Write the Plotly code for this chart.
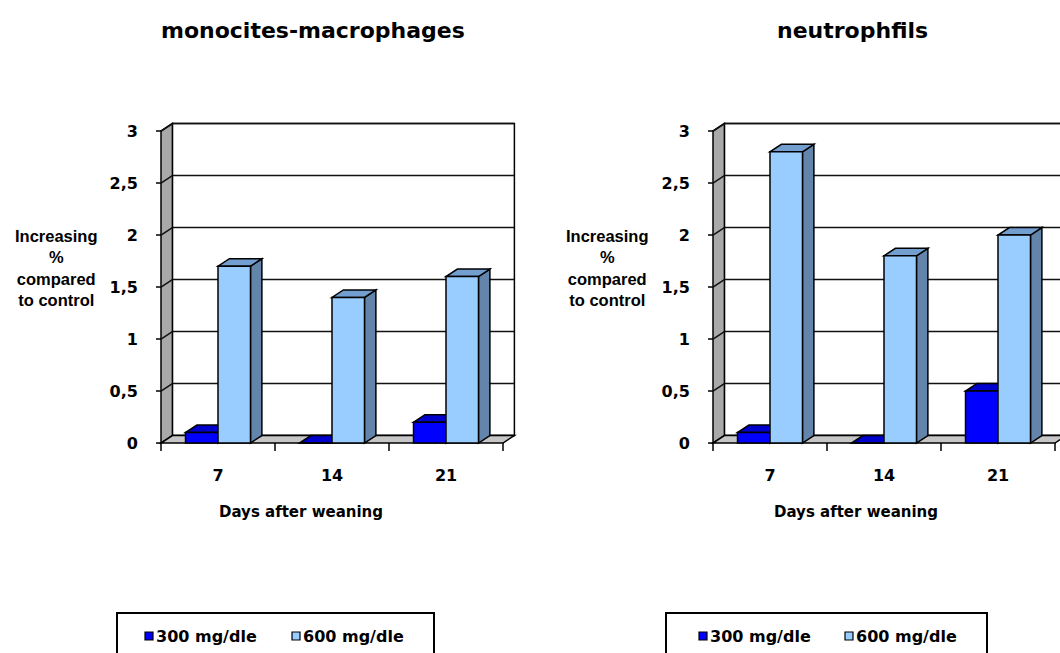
import plotly.graph_objects as go

# ---- data -------------------------------------------------------------
days = ["7", "14", "21"]
series_names = ["300 mg/dle", "600 mg/dle"]
mono_300 = [0.1, 0.0, 0.2]
mono_600 = [1.7, 1.4, 1.6]
neut_300 = [0.1, 0.0, 0.5]
neut_600 = [2.8, 1.8, 2.0]
panel_titles = ["monocites-macrophages", "neutrophfils"]
y_ticks = [0, 0.5, 1, 1.5, 2, 2.5, 3]
y_tick_text = ["0", "0,5", "1", "1,5", "2", "2,5", "3"]
x_title = "Days after weaning"
y_title = "Increasing<br>%<br>compared<br>to control"

# ---- look ---------------------------------------------------------------
W, H = 1060, 653
FONT = "DejaVu Sans"
CAT_PX = 114          # pixels per category
UNIT_PX = 104         # pixels per value unit
ZERO_Y = 443          # pixel row of value 0 on the front plane
FRONT_X = [161, 713]  # pixel column of the front y axis for each panel
DX = 0.1              # depth offset, category units
DY = 0.072            # depth offset, value units
BAR_W = 0.285
Y_MAX = 3
X_LO, Y_LO = -0.56, -0.09
Y_HI = Y_MAX + DY + 0.04

front_colors = ["#0000ff", "#99ccff"]
top_colors = ["#0000cc", "#729fd0"]
side_colors = ["#000099", "#6385ab"]
wall_gray = "#a9a9a9"
floor_gray = "#c6c6c6"
EDGE = dict(color="black", width=1.5)
GRID = dict(color="#111111", width=1.5)

panels = [(mono_300, mono_600), (neut_300, neut_600)]
offsets = [-BAR_W, 0.0]

fig = go.Figure()
shapes = []
annotations = []


def px_x(p):
    return p / W


def px_y(p):
    return 1 - p / H


def poly(pts):
    return "M " + " L ".join(f"{x},{y}" for x, y in pts) + " Z"


n_cat = len(days)
left_edge = -0.5
right_edge = n_cat - 0.5

for i, (s300, s600) in enumerate(panels):
    xa = "x" if i == 0 else f"x{i + 1}"
    ya = "y" if i == 0 else f"y{i + 1}"
    fx = FRONT_X[i]
    x_hi_px = min(W, fx + (right_edge + DX + 0.03 - left_edge) * CAT_PX)
    x_hi = left_edge + (x_hi_px - fx) / CAT_PX
    x_lo_px = fx + (X_LO - left_edge) * CAT_PX
    y_lo_px = ZERO_Y - Y_LO * UNIT_PX
    y_hi_px = ZERO_Y - Y_HI * UNIT_PX

    axis_x = dict(
        domain=[px_x(x_lo_px), px_x(x_hi_px)],
        range=[X_LO, x_hi],
        type="category",
        categoryorder="array",
        categoryarray=days,
        showgrid=False,
        zeroline=False,
        showline=False,
        ticks="",
        tickfont=dict(family=FONT, size=16, color="black", weight="bold"),
        ticklabelstandoff=12,
        anchor=ya,
        fixedrange=True,
    )
    # tick marks are drawn on the side wall; the axis ticks are only spacers
    axis_y = dict(
        domain=[px_y(y_lo_px), px_y(y_hi_px)],
        range=[Y_LO, Y_HI],
        tickvals=y_ticks,
        ticktext=y_tick_text,
        showgrid=False,
        zeroline=False,
        showline=False,
        ticks="outside",
        ticklen=12,
        tickcolor="rgba(0,0,0,0)",
        tickfont=dict(family=FONT, size=16, color="black", weight="bold"),
        anchor=xa,
        fixedrange=True,
    )
    fig.layout["xaxis" if i == 0 else f"xaxis{i + 1}"] = axis_x
    fig.layout["yaxis" if i == 0 else f"yaxis{i + 1}"] = axis_y

    ref = dict(xref=xa, yref=ya, layer="below")

    # back wall
    shapes.append(dict(type="path", path=poly([
        (left_edge + DX, DY), (right_edge + DX, DY),
        (right_edge + DX, Y_MAX + DY), (left_edge + DX, Y_MAX + DY)]),
        fillcolor="white", line=EDGE, **ref))
    # horizontal grid on the back wall
    for v in y_ticks:
        shapes.append(dict(type="line", x0=left_edge + DX, x1=right_edge + DX,
                           y0=v + DY, y1=v + DY, line=GRID, **ref))
    # side wall
    shapes.append(dict(type="path", path=poly([
        (left_edge, 0), (left_edge, Y_MAX),
        (left_edge + DX, Y_MAX + DY), (left_edge + DX, DY)]),
        fillcolor=wall_gray, line=EDGE, **ref))
    for v in y_ticks:
        shapes.append(dict(type="line", x0=left_edge, x1=left_edge + DX,
                           y0=v, y1=v + DY, line=GRID, **ref))
    # floor
    shapes.append(dict(type="path", path=poly([
        (left_edge, 0), (right_edge, 0),
        (right_edge + DX, DY), (left_edge + DX, DY)]),
        fillcolor=floor_gray, line=EDGE, **ref))
    # tick marks
    for v in y_ticks:
        shapes.append(dict(type="line", x0=left_edge - 5 / CAT_PX, x1=left_edge,
                           y0=v, y1=v, line=EDGE, **ref))
    for b in range(n_cat + 1):
        xb = left_edge + b
        shapes.append(dict(type="line", x0=xb, x1=xb, y0=0, y1=-8 / UNIT_PX,
                           line=EDGE, **ref))

    # top and side faces of the columns
    for k, vals in enumerate((s300, s600)):
        o = offsets[k]
        for j, v in enumerate(vals):
            x0 = j + o
            x1 = x0 + BAR_W
            shapes.append(dict(type="path", path=poly([
                (x1, 0), (x1, v), (x1 + DX, v + DY), (x1 + DX, DY)]),
                fillcolor=side_colors[k], line=EDGE, **ref))
            shapes.append(dict(type="path", path=poly([
                (x0, v), (x1, v), (x1 + DX, v + DY), (x0 + DX, v + DY)]),
                fillcolor=top_colors[k], line=EDGE, **ref))

    # front faces
    for k, vals in enumerate((s300, s600)):
        fig.add_trace(go.Bar(
            x=days, y=vals, name=series_names[k],
            offset=offsets[k], width=BAR_W,
            marker=dict(color=front_colors[k], line=EDGE),
            xaxis=xa, yaxis=ya, showlegend=False, hoverinfo="skip",
        ))

# ---- texts ----------------------------------------------------------------
title_x = [313, 852]
ytitle_x = [56, 607]
xtitle_x = [301, 856]
for i in range(2):
    annotations.append(dict(
        text=panel_titles[i], x=px_x(title_x[i]), y=px_y(30),
        xref="paper", yref="paper", showarrow=False,
        xanchor="center", yanchor="middle",
        font=dict(family=FONT, size=22, color="black", weight="bold")))
    annotations.append(dict(
        text=y_title, x=px_x(ytitle_x[i]), y=px_y(268),
        xref="paper", yref="paper", showarrow=False,
        xanchor="center", yanchor="middle", align="center",
        font=dict(family="Liberation Sans", size=16.5, color="black", weight="bold")))
    annotations.append(dict(
        text=x_title, x=px_x(xtitle_x[i]), y=px_y(512),
        xref="paper", yref="paper", showarrow=False,
        xanchor="center", yanchor="middle",
        font=dict(family=FONT, size=15, color="black", weight="bold")))

# ---- legends ----------------------------------------------------------------
legend_boxes = [(117, 434), (666, 987)]
legend_items = [[145, 292], [699, 845]]
for i in range(2):
    bx0, bx1 = legend_boxes[i]
    shapes.append(dict(type="rect", xref="paper", yref="paper",
                       x0=px_x(bx0), x1=px_x(bx1), y0=px_y(670), y1=px_y(613),
                       line=dict(color="black", width=2), fillcolor="white"))
    for k in range(2):
        sx = legend_items[i][k]
        shapes.append(dict(type="rect", xref="paper", yref="paper",
                           x0=px_x(sx), x1=px_x(sx + 8), y0=px_y(640), y1=px_y(632),
                           line=dict(color="black", width=1.2),
                           fillcolor=front_colors[k]))
        annotations.append(dict(
            text=series_names[k], x=px_x(sx + 9), y=px_y(636),
            xref="paper", yref="paper", showarrow=False,
            xanchor="left", yanchor="middle",
            font=dict(family=FONT, size=16, color="black", weight="bold")))

fig.update_layout(
    width=W, height=H,
    margin=dict(l=0, r=0, t=0, b=0),
    paper_bgcolor="white", plot_bgcolor="white",
    barmode="overlay",
    shapes=shapes, annotations=annotations,
    showlegend=False,
)

fig.write_html("out.html")
